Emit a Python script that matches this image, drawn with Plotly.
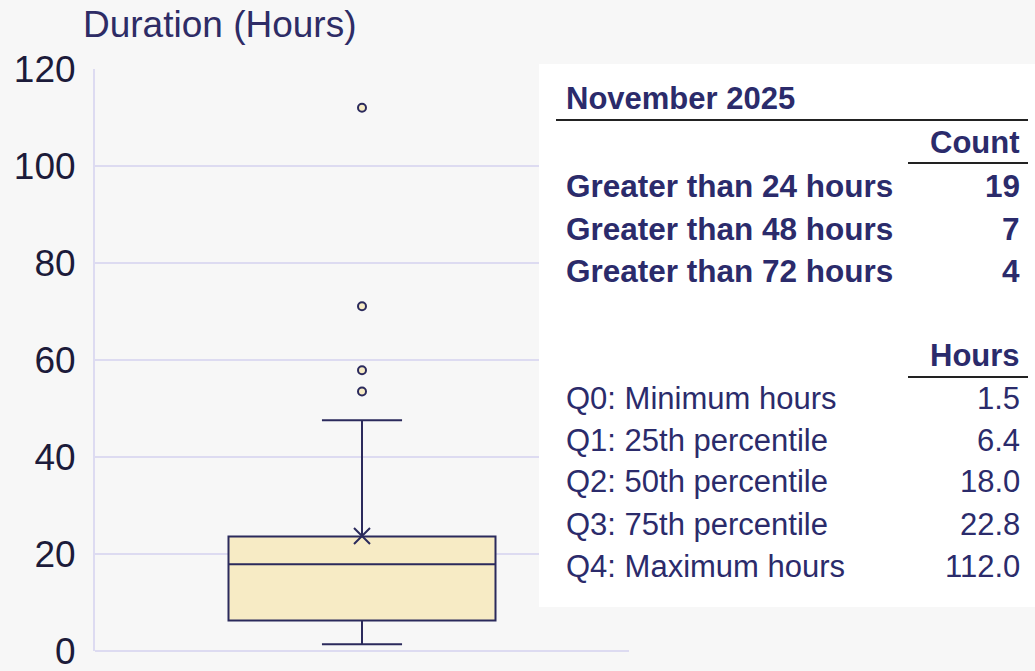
import plotly.graph_objects as go

# ── data ──────────────────────────────────────────────────────────────────────
box_stats = dict(lowerfence=1.4, q1=6.3, median=17.9, q3=23.6, upperfence=47.6)
mean_hours = 23.7
outliers = [112.0, 71.1, 57.9, 53.5]

table_month = "November 2025"
count_labels = ["Greater than 24 hours", "Greater than 48 hours", "Greater than 72 hours"]
count_values = [19, 7, 4]
stat_labels = ["Q0: Minimum hours", "Q1: 25th percentile", "Q2: 50th percentile",
               "Q3: 75th percentile", "Q4: Maximum hours"]
stat_values = [1.5, 6.4, 18.0, 22.8, 112.0]

y_ticks = [0, 20, 40, 60, 80, 100, 120]

# ── layout constants (pixels) ─────────────────────────────────────────────────
W, H = 1035, 671
L, R, T, B = 95, 406, 69, 20
PW, PH = W - L - R, H - T - B

NAVY = "#2b2a5c"
FILL = "#f7ebc5"
GRID = "#dddbf1"
BG = "#f7f7f7"
TXT = "#2b2b6b"
FONT = "Liberation Sans, Arial, sans-serif"


def px_x(x):
    return (x - L) / PW


def px_y(y):
    return (H - B - y) / PH


fig = go.Figure()

fig.add_trace(go.Box(
    x=[0], q1=[box_stats['q1']], median=[box_stats['median']], q3=[box_stats['q3']],
    lowerfence=[box_stats['lowerfence']], upperfence=[box_stats['upperfence']],
    width=1.0, whiskerwidth=0.3, boxpoints=False,
    fillcolor=FILL, line=dict(color=NAVY, width=2), showlegend=False,
))
fig.add_trace(go.Scatter(
    x=[0] * len(outliers), y=outliers, mode='markers', showlegend=False,
    marker=dict(symbol='circle', size=8, color=FILL, line=dict(color=NAVY, width=2)),
))
fig.add_trace(go.Scatter(
    x=[0], y=[mean_hours], mode='markers', showlegend=False,
    marker=dict(symbol='x-thin', size=16, line=dict(color=NAVY, width=2)),
))

# ── table panel ───────────────────────────────────────────────────────────────
shapes = [
    dict(type='rect', xref='paper', yref='paper', layer='above',
         x0=px_x(539), x1=px_x(W + 5), y0=px_y(607), y1=px_y(64),
         fillcolor='white', line=dict(width=0)),
    dict(type='line', xref='paper', yref='paper', layer='above',
         x0=px_x(556), x1=px_x(1028), y0=px_y(120), y1=px_y(120),
         line=dict(color='#222222', width=2)),
    dict(type='line', xref='paper', yref='paper', layer='above',
         x0=px_x(908), x1=px_x(1028), y0=px_y(163), y1=px_y(163),
         line=dict(color='#222222', width=2)),
    dict(type='line', xref='paper', yref='paper', layer='above',
         x0=px_x(908), x1=px_x(1028), y0=px_y(377), y1=px_y(377),
         line=dict(color='#222222', width=2)),
]

ann = []


def txt(text, x, y, anchor='left', bold=False, size=31):
    ann.append(dict(
        text=f"<b>{text}</b>" if bold else text,
        xref='paper', yref='paper', x=px_x(x), y=px_y(y),
        xanchor=anchor, yanchor='middle', showarrow=False,
        font=dict(family=FONT, size=size, color=TXT),
    ))


txt(table_month, 564, 98, bold=True)
txt("Count", 1022, 142, anchor='right', bold=True)
for i, (lab, val) in enumerate(zip(count_labels, count_values)):
    y = 186 + i * 42.5
    txt(lab, 564, y, bold=True, size=31.5)
    txt(str(val), 1022, y, anchor='right', bold=True, size=31.5)

txt("Hours", 1022, 355, anchor='right', bold=True)
for i, (lab, val) in enumerate(zip(stat_labels, stat_values)):
    y = 398 + i * 42
    txt(lab, 564, y)
    txt(f"{val:.1f}", 1022, y, anchor='right')

fig.update_layout(
    width=W, height=H, margin=dict(l=L, r=R, t=T, b=B, autoexpand=False),
    paper_bgcolor=BG, plot_bgcolor=BG,
    font=dict(family=FONT, color='#1c1b3a'),
    title=dict(text="Duration (Hours)", x=83 / W, xanchor='left', xref='container',
               y=1 - 24 / H, yanchor='middle', yref='container',
               font=dict(family=FONT, size=37, color='#2e2c66')),
    shapes=shapes, annotations=ann, showlegend=False,
)
fig.update_xaxes(range=[-1, 1], showticklabels=False, showgrid=False, zeroline=False,
                 showline=False, fixedrange=True)
fig.update_yaxes(range=[0, 120], tickvals=y_ticks, gridcolor=GRID, gridwidth=2,
                 zeroline=True, zerolinecolor=GRID, zerolinewidth=2,
                 showline=True, linecolor=GRID, linewidth=2, ticklabeloverflow='allow',
                 tickfont=dict(size=37, color='#1c1b3a'), ticklabelstandoff=10)

# page margin off so the figure sits at the window's top-left corner
fig.write_html("out.html", config={'displayModeBar': False},
               post_script="document.body.style.margin='0';")
